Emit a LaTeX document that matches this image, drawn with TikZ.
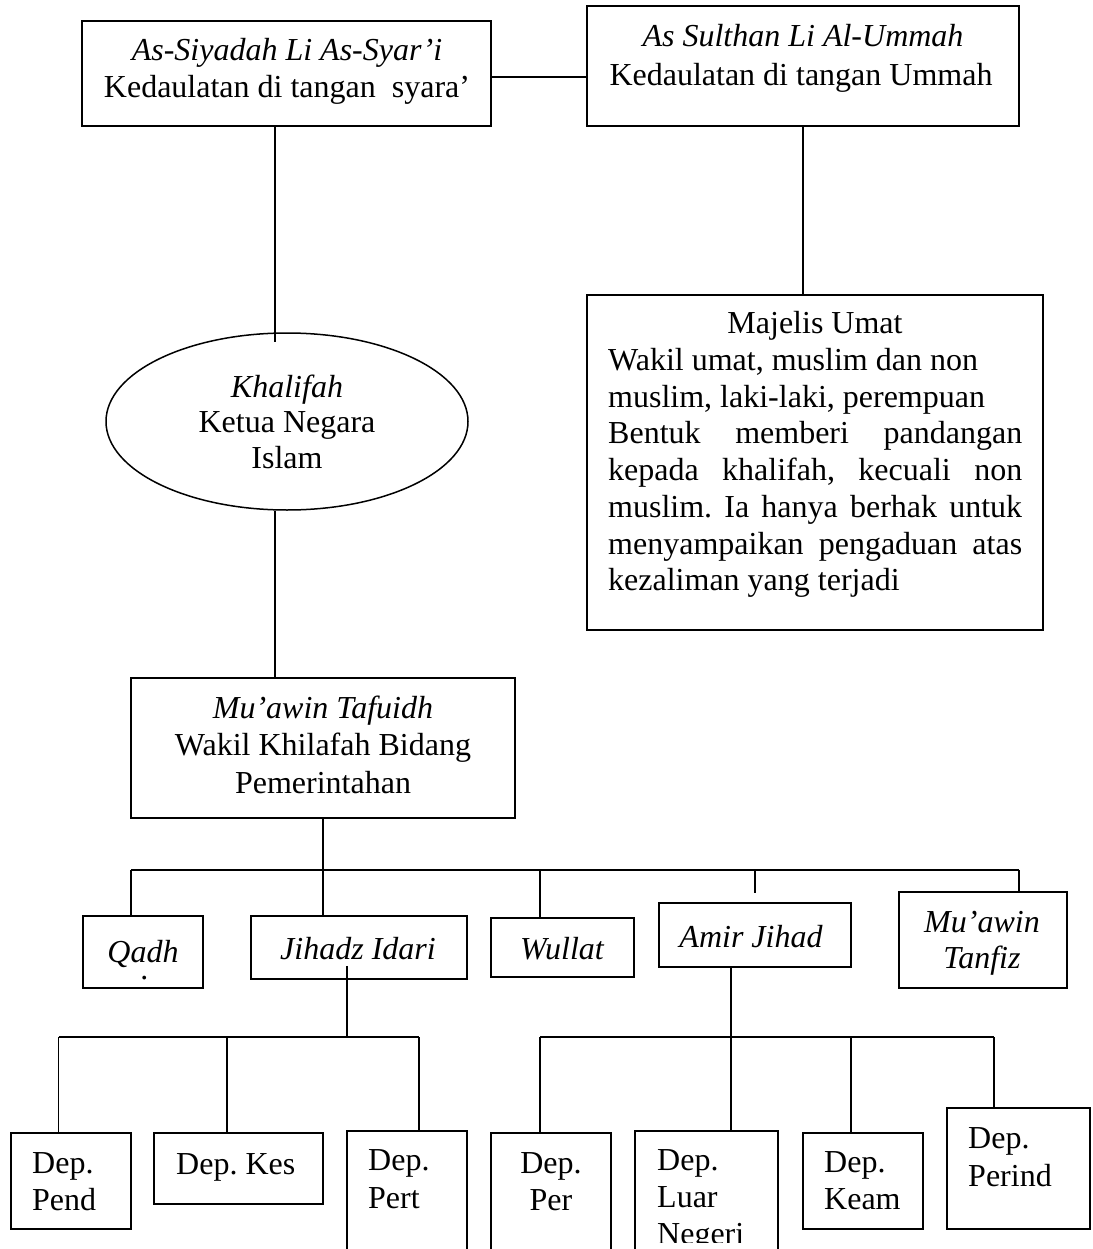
\documentclass[tikz,border=0pt]{standalone}
\usepackage{fontspec}
\setmainfont{Liberation Serif}
\frenchspacing
\usetikzlibrary{positioning,fit,shapes.geometric}
\tikzset{
  box/.style={draw, line width=1.8pt, inner sep=0pt},
  oval/.style={draw, ellipse, line width=1.5pt, inner sep=0pt},
  conn/.style={line width=1.6pt},
  txt/.style={font=\fontsize{32}{36}\selectfont, inner sep=0pt},
  itxt/.style={font=\fontsize{32}{36}\selectfont\itshape, inner sep=0pt}
}
\begin{document}
\begin{tikzpicture}[x=1pt,y=-1pt]
\useasboundingbox (0,0) rectangle (1092,1249);
% ---- top boxes
\node[box, fit={(82,21) (491,126)}] (b1) {};
\node[box, fit={(587,6) (1019,126)}] (b2) {};
\node[itxt, anchor=base] (b1a) at (287,61) {As-Siyadah Li As-Syar’i};
\node[txt, anchor=base] (b1b) at (287,98) {Kedaulatan di tangan~ syara’};
\node[itxt, anchor=base] (b2a) at (803,47) {As Sulthan Li Al-Ummah};
\node[txt, anchor=base] (b2b) at (801,86) {Kedaulatan di tangan Ummah};
% ---- majelis
\node[box, fit={(587,295) (1043,630)}] (mu) {};
\node[txt, anchor=base] (mu0) at (815,333) {Majelis Umat};
\node[txt, anchor=base west] (mu1) at (608,370) {Wakil umat, muslim dan non};
\node[txt, anchor=base west] (mu2) at (608,407) {muslim, laki-laki, perempuan};
\node[txt, anchor=base west] (mu3) at (608,443) {\makebox[414pt][s]{Bentuk memberi pandangan}};
\node[txt, anchor=base west] (mu4) at (608,480) {\makebox[414pt][s]{kepada khalifah, kecuali non}};
\node[txt, anchor=base west] (mu5) at (608,517) {\makebox[414pt][s]{muslim. Ia hanya berhak untuk}};
\node[txt, anchor=base west] (mu6) at (608,554) {\makebox[414pt][s]{menyampaikan pengaduan atas}};
\node[txt, anchor=base west] (mu7) at (608,590) {kezaliman yang terjadi};
% ---- khalifah
\node[oval, minimum width=362pt, minimum height=177pt] (kh) at (287,421.5) {};
\node[itxt, anchor=base] (kha) at (287,397) {Khalifah};
\node[txt, anchor=base] (khb) at (287,432) {Ketua Negara};
\node[txt, anchor=base] (khc) at (287,468) {Islam};
% ---- mu'awin tafuidh
\node[box, fit={(131,678) (515,818)}] (mt) {};
\node[itxt, anchor=base] (mta) at (323,718) {Mu’awin Tafuidh};
\node[txt, anchor=base] (mtb) at (323,755) {Wakil Khilafah Bidang};
\node[txt, anchor=base] (mtc) at (323,793) {Pemerintahan};
% ---- middle row
\node[box, fit={(83,916) (203,988)}] (qa) {};
\node[itxt, anchor=base] (qat) at (143,962) {Qadh};
\node[itxt, anchor=base] (qad) at (145,979) {.};
\node[box, fit={(251,916) (467,979)}] (ji) {};
\node[itxt, anchor=base] (jit) at (358,959) {Jihadz Idari};
\node[box, fit={(491,918) (634,977)}] (wu) {};
\node[itxt, anchor=base] (wut) at (562,959) {Wullat};
\node[box, fit={(659,903) (851,967)}] (am) {};
\node[itxt, anchor=base] (amt) at (751,947) {Amir Jihad};
\node[box, fit={(899,892) (1067,988)}] (tf) {};
\node[itxt, anchor=base] (tfa) at (982,932) {Mu’awin};
\node[itxt, anchor=base] (tfb) at (982,968) {Tanfiz};
% ---- bottom row
\node[box, fit={(11,1133) (131,1229)}] (d1) {};
\node[txt, anchor=base west] (d1a) at (32,1173) {Dep.};
\node[txt, anchor=base west] (d1b) at (32,1210) {Pend};
\node[box, fit={(154,1133) (323,1204)}] (d2) {};
\node[txt, anchor=base west] (d2a) at (176,1174) {Dep. Kes};
\node[box, fit={(347,1131) (467,1262)}] (d3) {};
\node[txt, anchor=base west] (d3a) at (368,1170) {Dep.};
\node[txt, anchor=base west] (d3b) at (368,1208) {Pert};
\node[box, fit={(491,1133) (611,1262)}] (d4) {};
\node[txt, anchor=base] (d4a) at (551,1173) {Dep.};
\node[txt, anchor=base] (d4b) at (551,1210) {Per};
\node[box, fit={(635,1131) (778,1262)}] (d5) {};
\node[txt, anchor=base west] (d5a) at (657,1170) {Dep.};
\node[txt, anchor=base west] (d5b) at (657,1207) {Luar};
\begin{scope}
\clip (640,1200) rectangle (775,1242);
\node[txt, anchor=base west] (d5c) at (657,1244) {Negeri};
\end{scope}
\node[box, fit={(803,1133) (923,1229)}] (d6) {};
\node[txt, anchor=base west] (d6a) at (824,1172) {Dep.};
\node[txt, anchor=base west] (d6b) at (824,1209) {Keam};
\node[box, fit={(947,1108) (1090,1229)}] (d7) {};
\node[txt, anchor=base west] (d7a) at (968,1148) {Dep.};
\node[txt, anchor=base west] (d7b) at (968,1186) {Perind};
% ---- helper coordinates
\coordinate (h1) at (0,77);
\coordinate (x275) at (275,0);
\coordinate (busL) at (131,870);
\coordinate (busR) at (1019,870);
\coordinate (xw) at (540,0);
\coordinate (xj) at (347,0);
\coordinate (lbL) at (58.5,1037);
\coordinate (lbM) at (227,1037);
\coordinate (lbR) at (419,1037);
\coordinate (xa) at (731,0);
\coordinate (rbL) at (540,1037);
\coordinate (rbM) at (851,1037);
\coordinate (rbR) at (994,1037);
% ---- connectors
\draw[conn] (b1.east |- h1) -- (b2.west |- h1);
\draw[conn] (b1.south -| x275) -- ([yshift=-10pt]kh.north -| x275);
\draw[conn] (b2.south) -- (mu.north -| b2.south);
\draw[conn] (kh.south -| x275) -- (mt.north -| x275);
\draw[conn] (mt.south) -- (mt.south |- busL);
\draw[conn] (busL) -- (busR);
\draw[conn] (busL) -- (qa.north -| busL);
\draw[conn] (mt.south |- busL) -- (ji.north -| mt.south);
\draw[conn] (xw |- busL) -- (wu.north -| xw);
\draw[conn] (am.north |- busL) -- ([yshift=9pt]am.north);
\draw[conn] (busR) -- (tf.north -| busR);
\draw[conn] ([yshift=14pt]ji.south -| xj) -- (xj |- lbL);
\draw[conn] (lbL) -- (lbR);
\draw[conn] (lbL) -- (d1.north -| lbL);
\draw[conn] (lbM) -- (d2.north -| lbM);
\draw[conn] (lbR) -- (d3.north -| lbR);
\draw[conn] (am.south -| xa) -- (d5.north -| xa);
\draw[conn] (rbL) -- (rbR);
\draw[conn] (rbL) -- (d4.north -| rbL);
\draw[conn] (rbM) -- (d6.north -| rbM);
\draw[conn] (rbR) -- (d7.north -| rbR);
\end{tikzpicture}
\end{document}
